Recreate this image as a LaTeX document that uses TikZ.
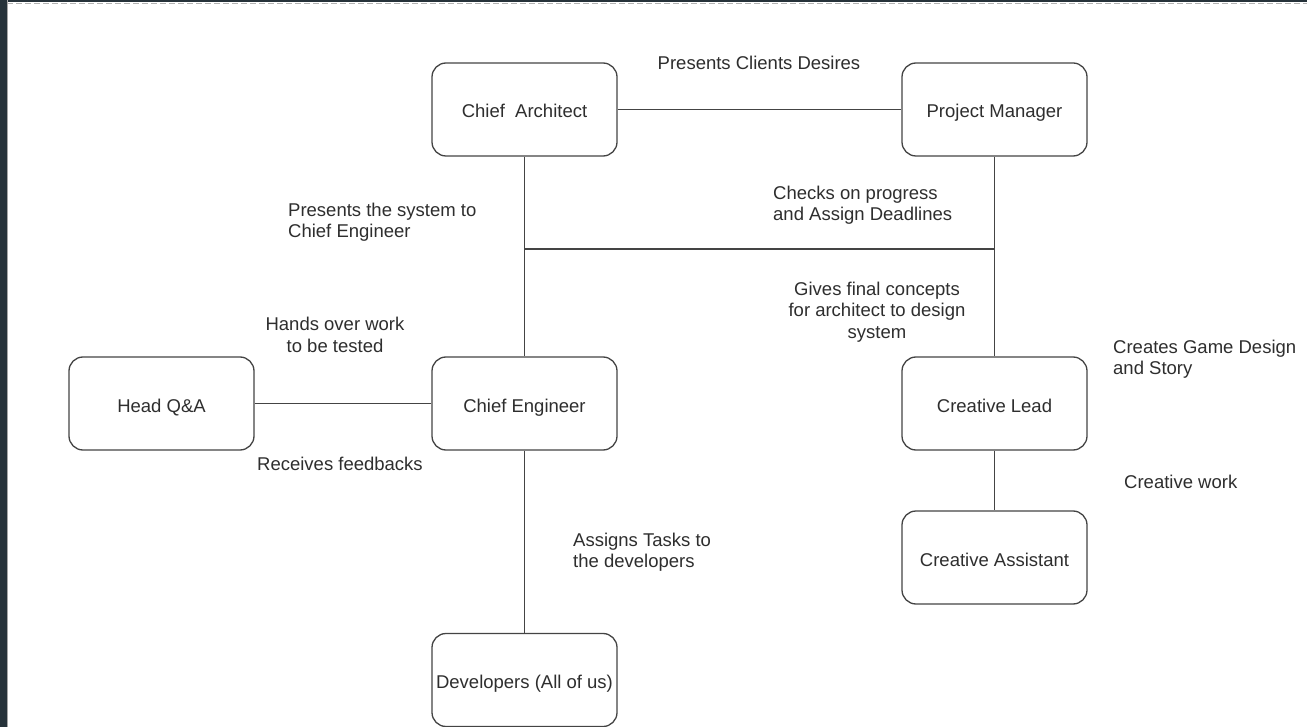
\documentclass[tikz,border=0pt]{standalone}
\usepackage{fontspec}
\setmainfont{Liberation Sans}
\definecolor{frame}{HTML}{26323A}
\definecolor{ink}{HTML}{2E2E2E}
\definecolor{edge}{HTML}{444444}
\begin{document}
\begin{tikzpicture}[x=1pt,y=-1pt,
  every node/.style={font=\fontsize{18.5}{21.5}\selectfont, text=ink},
  role/.style={draw=edge, line width=1.3pt, rounded corners=14pt, minimum width=185pt, minimum height=93pt, inner sep=0pt, fill=white, text height=17pt, text depth=0pt},
  lbl/.style={inner sep=0pt, align=left, anchor=west},
  clbl/.style={inner sep=0pt, align=center},
  link/.style={draw=edge, line width=1.3pt}]
\useasboundingbox (0,0) rectangle (1307,727);
\fill[white] (0,0) rectangle (1307,727);
\fill[frame] (0,0) rectangle (7,727);
\fill[frame] (0,0) rectangle (1307,2.5);
\draw[gray!60, line width=1.5pt, dash pattern=on 6pt off 3pt] (7,3.5) -- (1307,3.5);
\draw[gray!70, line width=1pt] (7.5,0) -- (7.5,727);

\node[role] (ca) at (524.5,109.5) {Chief\ \ Architect};
\node[role] (pm) at (994.5,109.5) {Project Manager};
\node[role] (qa) at (161.5,403.5) {Head Q\&A};
\node[role] (ce) at (524.5,403.5) {Chief Engineer};
\node[role] (cl) at (994.5,403.5) {Creative Lead};
\node[role] (cs) at (994.5,557.5) {Creative Assistant};
\node[role] (dv) at (524.5,680) {Developers (All of us)};

\coordinate (j1) at (ca.south |- 0,249);
\coordinate (j2) at (pm.south |- 0,249);

\draw[link] (ca.east) -- (pm.west);
\draw[link] (ca.south) -- (ce.north);
\draw[link] (j1) -- (j2);
\draw[link] (pm.south) -- (cl.north);
\draw[link] (qa.east) -- (ce.west);
\draw[link] (ce.south) -- (dv.north);
\draw[link] (cl.south) -- (cs.north);

\node[clbl] (t1) at (759,63) {Presents Clients Desires};
\node[lbl] (t2) at (773,205) {Checks on progress\\and Assign Deadlines};
\node[lbl] (t3) at (288,222) {Presents the system to\\Chief Engineer};
\node[clbl] (t4) at (877,312) {Gives final concepts\\for architect to design\\system};
\node[clbl] (t5) at (335,335) {Hands over work\\to be tested};
\node[lbl] (t6) at (257,464) {Receives feedbacks};
\node[lbl] (t7) at (1113,359) {Creates Game Design\\and Story};
\node[lbl] (t8) at (1124,482) {Creative work};
\node[lbl] (t9) at (573,552) {Assigns Tasks to\\the developers};
\end{tikzpicture}
\end{document}
